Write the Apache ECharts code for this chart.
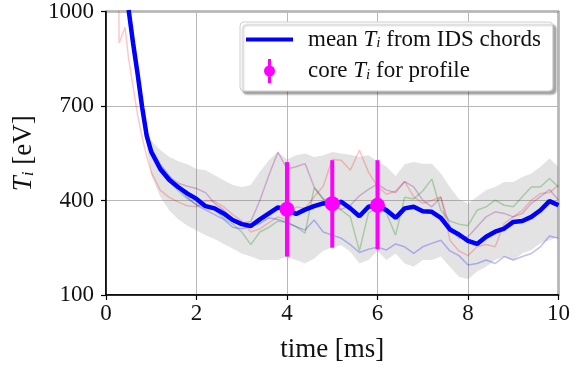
<!DOCTYPE html>
<html><head><meta charset="utf-8">
<script src="https://cdn.jsdelivr.net/npm/echarts@6/dist/echarts.min.js"></script>
<style>html,body{margin:0;padding:0;background:#fff}#c{width:573px;height:371px}</style>
</head><body><div id="c"></div>
<script>
// ---- data (time in ms, Ti in eV) ----
const times = [0.5,0.6,0.7,0.8,0.9,1.0,1.2,1.4,1.6,1.8,2.0,2.2,2.4,2.6,2.8,3.0,3.2,3.4,3.6,3.8,4.0,4.2,4.4,4.6,4.8,5.0,5.2,5.4,5.6,5.8,6.0,6.2,6.4,6.6,6.8,7.0,7.2,7.4,7.6,7.8,8.0,8.2,8.4,8.6,8.8,9.0,9.2,9.4,9.6,9.8,10.0];
const meanTi = [1005,898,800,695,605,555,500,465,442,422,405,382,375,359,338,325,319,340,359,378,372,357,371,382,391,388,396,375,350,380,385,369,345,375,380,366,364,345,308,292,272,262,285,301,311,332,335,348,369,398,385];
const bandHigh = [1025,915,815,712,625,590,560,538,525,515,500,496,480,464,449,443,449,491,528,554,530,544,549,538,544,554,549,545,538,544,525,507,478,515,522,517,517,486,443,405,390,412,433,443,459,459,475,486,507,533,507];
const bandLow = [985,880,780,675,570,480,412,368,340,320,305,290,278,262,248,232,222,211,211,211,222,211,200,216,240,252,258,237,200,211,240,211,232,200,190,211,211,222,190,158,150,175,190,211,222,211,232,243,264,274,285];
const redHeadTimes = [0.28,0.29,0.42];
const redHead = [1100,900,950];
const chordRed = [850,760,670,600,540,490,432,410,395,383,380,400,398,380,355,335,300,310,330,348,338,380,375,412,445,530,528,496,560,490,445,420,430,460,412,391,400,412,274,240,225,253,260,253,327,348,369,401,422,425,449];
const chordPurple = [1010,890,790,690,610,560,505,475,455,445,438,425,391,370,340,328,333,400,480,554,500,507,517,443,405,390,372,385,415,435,452,433,425,460,443,401,380,410,315,280,285,317,348,364,359,348,359,391,412,435,401];
const chordGreen = [1000,895,795,695,600,550,495,460,430,405,388,378,369,345,325,300,260,300,315,335,330,317,296,440,405,388,369,348,240,360,380,359,290,410,405,430,468,369,335,325,320,369,380,401,385,380,412,443,443,470,443];
const chordBlue = [1010,900,800,700,615,565,515,478,440,410,385,370,355,340,315,310,318,327,345,340,330,317,306,338,300,290,280,260,235,245,252,243,262,253,232,253,264,274,240,225,195,200,211,200,222,211,222,232,253,287,280];
const coreTimes = [4,5,6];
const coreTi = [372,390,385];
const coreLow = [222,250,245];
const coreHigh = [522,528,528];
const xTicks = [0,2,4,6,8,10];
const yTicks = [100,400,700,1000];

// ---- build ----
const FF = '"Liberation Serif", "DejaVu Serif", serif';
const pair = (ts, vs) => ts.map((t, i) => [t, vs[i]]);
const redData = pair(redHeadTimes, redHead).concat(pair(times, chordRed));
const faint = (name, color, data) => ({
  name, type: 'line', data, symbol: 'none', z: 3,
  lineStyle: {color, width: 1.5}, silent: true
});
const chart = echarts.init(document.getElementById('c'), null, {renderer: 'canvas'});
chart.setOption({
  animation: false,
  grid: {left: 106, right: 12, top: 11, bottom: 76, show: true, borderColor: '#000', borderWidth: 1.5, backgroundColor: 'transparent'},
  legend: {
    orient: 'vertical', left: 240, top: 22,
    data: [
      {name: 'mean', icon: 'path://M0,0 H47 V4 H0 Z'},
      {name: 'core', icon: 'path://M4,0 H7 V24 H4 Z M11,12 A5.5,5.5 0 1,1 0,12 A5.5,5.5 0 1,1 11,12 Z'}
    ],
    itemWidth: 47, itemHeight: 24, itemGap: 8,
    padding: [6, 12, 8, 6],
    backgroundColor: '#fff', borderColor: '#cfcfcf', borderWidth: 1, borderRadius: 4,
    shadowColor: 'rgba(0,0,0,0.35)', shadowBlur: 2, shadowOffsetX: 3, shadowOffsetY: 3,
    formatter: n => n === 'mean' ? 'mean {it|T}{sub|i} from IDS chords' : 'core {it|T}{sub|i} for profile',
    textStyle: {
      fontFamily: FF, fontSize: 23, color: '#111', padding: [0, 0, 0, 10],
      rich: {
        it: {fontFamily: FF, fontSize: 23, fontStyle: 'italic', color: '#111'},
        sub: {fontFamily: FF, fontSize: 15, fontStyle: 'italic', color: '#111', verticalAlign: 'bottom'}
      }
    }
  },
  xAxis: {
    type: 'value', min: 0, max: 10, interval: 2,
    name: 'time [ms]', nameLocation: 'middle', nameGap: 41,
    nameTextStyle: {fontFamily: FF, fontSize: 27, color: '#111'},
    axisLine: {show: true, onZero: false, lineStyle: {color: '#000', width: 1.5}},
    axisTick: {show: true, length: 5, lineStyle: {color: '#000', width: 1.2}},
    axisLabel: {fontFamily: FF, fontSize: 23, color: '#111', margin: 7, formatter: v => xTicks.includes(v) ? String(v) : ''},
    splitLine: {show: true, lineStyle: {color: '#b8b8b8', width: 1}}
  },
  yAxis: {
    type: 'value', min: 100, max: 1000,
    name: '{it|T}{sub|i} [eV]', nameLocation: 'middle', nameGap: 62, nameRotate: 90,
    nameTextStyle: {
      fontFamily: FF, fontSize: 27, color: '#111',
      rich: {
        it: {fontFamily: FF, fontSize: 27, fontStyle: 'italic', color: '#111'},
        sub: {fontFamily: FF, fontSize: 17, fontStyle: 'italic', color: '#111', verticalAlign: 'bottom'}
      }
    },
    axisLine: {show: true, lineStyle: {color: '#000', width: 1.5}},
    axisTick: {show: true, length: 5, customValues: yTicks, lineStyle: {color: '#000', width: 1.2}},
    axisLabel: {fontFamily: FF, fontSize: 23, color: '#111', margin: 12, customValues: yTicks, formatter: v => String(v)},
    splitLine: {show: true, lineStyle: {color: '#b8b8b8', width: 1}}
  },
  series: [
    {name: 'band', type: 'custom', z: 1, silent: true,
     data: times.map((t, i) => [t, bandLow[i], bandHigh[i]]),
     encode: {x: 0, y: [1, 2]},
     renderItem: (params, api) => {
       if (params.dataIndex !== 0) return null;
       const pts = [];
       for (let k = 0; k < times.length; k++) pts.push(api.coord([times[k], bandHigh[k]]));
       for (let k = times.length - 1; k >= 0; k--) pts.push(api.coord([times[k], bandLow[k]]));
       const cs = params.coordSys;
       return {
         type: 'polygon', shape: {points: pts},
         style: {fill: 'rgba(128,128,128,0.22)'},
         clipPath: {type: 'rect', shape: {x: cs.x, y: cs.y, width: cs.width, height: cs.height}}
       };
     }},
    faint('red', 'rgba(255,0,0,0.22)', redData),
    faint('purple', 'rgba(128,0,128,0.26)', pair(times, chordPurple)),
    faint('green', 'rgba(0,128,0,0.26)', pair(times, chordGreen)),
    faint('blue', 'rgba(0,0,255,0.26)', pair(times, chordBlue)),
    {name: 'mean', type: 'line', data: pair(times, meanTi), symbol: 'none', z: 5,
     lineStyle: {color: '#0000ff', width: 4.5}, itemStyle: {color: '#0000ff'}},
    {name: 'core', type: 'custom', z: 6,
     data: coreTimes.map((t, i) => [t, coreLow[i], coreHigh[i]]),
     encode: {x: 0, y: [1, 2]},
     itemStyle: {color: '#ff00ff'},
     renderItem: (params, api) => {
       const a = api.coord([api.value(0), api.value(1)]);
       const b = api.coord([api.value(0), api.value(2)]);
       return {type: 'line', shape: {x1: a[0], y1: a[1], x2: b[0], y2: b[1]}, style: {stroke: '#ff00ff', lineWidth: 4}};
     }},
    {name: 'core', type: 'scatter', z: 7, data: pair(coreTimes, coreTi), symbol: 'circle', symbolSize: 15,
     itemStyle: {color: '#ff00ff', opacity: 1}}
  ]
});
</script></body></html>
